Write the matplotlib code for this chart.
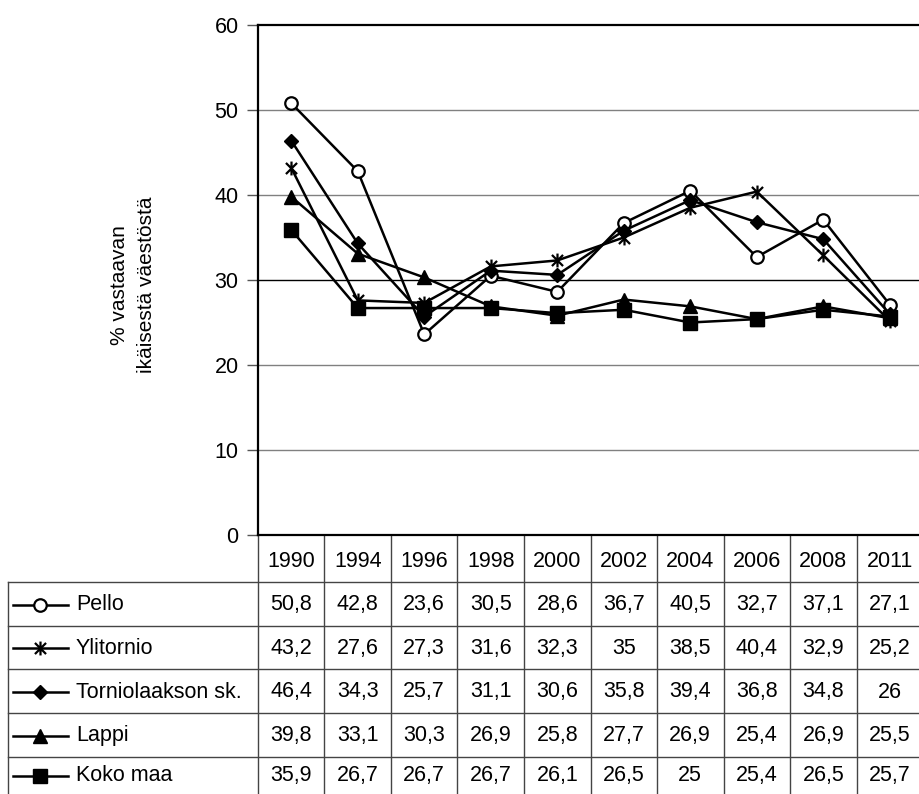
import matplotlib
matplotlib.use('Agg')
import matplotlib.pyplot as plt
from matplotlib.path import Path
from matplotlib.transforms import blended_transform_factory

plt.rcParams['font.family'] = ['Liberation Sans', 'DejaVu Sans']

years = ['1990', '1994', '1996', '1998', '2000', '2002', '2004', '2006', '2008', '2011']
series_names = ['Pello', 'Ylitornio', 'Torniolaakson sk.', 'Lappi', 'Koko maa']
pello = [50.8, 42.8, 23.6, 30.5, 28.6, 36.7, 40.5, 32.7, 37.1, 27.1]
ylitornio = [43.2, 27.6, 27.3, 31.6, 32.3, 35, 38.5, 40.4, 32.9, 25.2]
tornio = [46.4, 34.3, 25.7, 31.1, 30.6, 35.8, 39.4, 36.8, 34.8, 26]
lappi = [39.8, 33.1, 30.3, 26.9, 25.8, 27.7, 26.9, 25.4, 26.9, 25.5]
koko = [35.9, 26.7, 26.7, 26.7, 26.1, 26.5, 25, 25.4, 26.5, 25.7]
values = [pello, ylitornio, tornio, lappi, koko]
y_ticks = [0, 10, 20, 30, 40, 50, 60]
y_label = '% vastaavan\nikäisestä väestöstä'

star = Path([(-1, -1), (1, 1), (-1, 1), (1, -1), (0, -1.25), (0, 1.25)],
            [Path.MOVETO, Path.LINETO, Path.MOVETO, Path.LINETO, Path.MOVETO, Path.LINETO])
styles = [
    dict(marker='o', ms=9, mfc='white', mec='black', mew=1.6),
    dict(marker=star, ms=10, mfc='none', mec='black', mew=1.6),
    dict(marker='D', ms=7.5, mfc='black', mec='black', mew=1),
    dict(marker='^', ms=10, mfc='black', mec='black', mew=1),
    dict(marker='s', ms=10, mfc='black', mec='black', mew=1),
]

W, H = 920, 794
fig = plt.figure(figsize=(W / 100, H / 100), dpi=100)
FS = 15.5
FSL = 15

ov = fig.add_axes([0, 0, 1, 1])
ov.set_xlim(0, W)
ov.set_ylim(H, 0)
ov.axis('off')

ax_l, ax_r, ax_t, ax_b = 258, 923, 25, 535
ax = fig.add_axes([ax_l / W, 1 - ax_b / H, (ax_r - ax_l) / W, (ax_b - ax_t) / H])
n = len(years)
ax.set_xlim(-0.5, n - 0.5)
ax.set_ylim(0, 60)
ax.set_yticks(y_ticks)
ax.set_yticklabels([str(t) for t in y_ticks], fontsize=FS)
ax.set_xticks([])
ax.tick_params(axis='y', length=8, width=1, color='#555555', pad=6)
for s in ['left', 'top', 'bottom', 'right']:
    ax.spines[s].set_linewidth(1.6)
    ax.spines[s].set_color('black')
for t in y_ticks[1:-1]:
    ax.axhline(t, color='black' if t == 30 else '#808080', lw=1, zorder=1)

x = list(range(n))
for name, vals, st in zip(series_names, values, styles):
    ax.plot(x, vals, color='black', lw=1.8, zorder=3, clip_on=False, **st)

fig.text(133 / W, 1 - 285 / H, y_label, rotation=90, ha='center', va='center',
         fontsize=FSL, linespacing=1.5)

tr = blended_transform_factory(ax.transData, ov.transData)
grid_c = '#444444'
row_edges = [582, 625.5, 669, 713, 757, 800]
header_mid = (ax_b + row_edges[0]) / 2 + 3
for i in range(n + 1):
    ov.plot([i - 0.5, i - 0.5], [ax_b, H + 5], transform=tr, color=grid_c, lw=1, clip_on=False)
for ye in row_edges:
    ov.plot([8, W + 5], [ye, ye], color=grid_c, lw=1, clip_on=False)
ov.plot([8, 8], [row_edges[0], H + 5], color=grid_c, lw=1, clip_on=False)

for i, yr in enumerate(years):
    ov.text(i, header_mid, yr, transform=tr, ha='center', va='center', fontsize=FS)

for r, (name, vals, st) in enumerate(zip(series_names, values, styles)):
    ym = (row_edges[r] + row_edges[r + 1]) / 2 + 1 if r < 4 else (row_edges[r] + H) / 2
    ov.plot([13, 68], [ym, ym], color='black', lw=1.8, clip_on=False)
    ov.plot([40.5], [ym], color='black', clip_on=False, **st)
    ov.text(76, ym, name, ha='left', va='center', fontsize=FS)
    for i, v in enumerate(vals):
        s = f'{v:g}'.replace('.', ',')
        ov.text(i, ym, s, transform=tr, ha='center', va='center', fontsize=FS)

fig.savefig('out.png', dpi=100)
